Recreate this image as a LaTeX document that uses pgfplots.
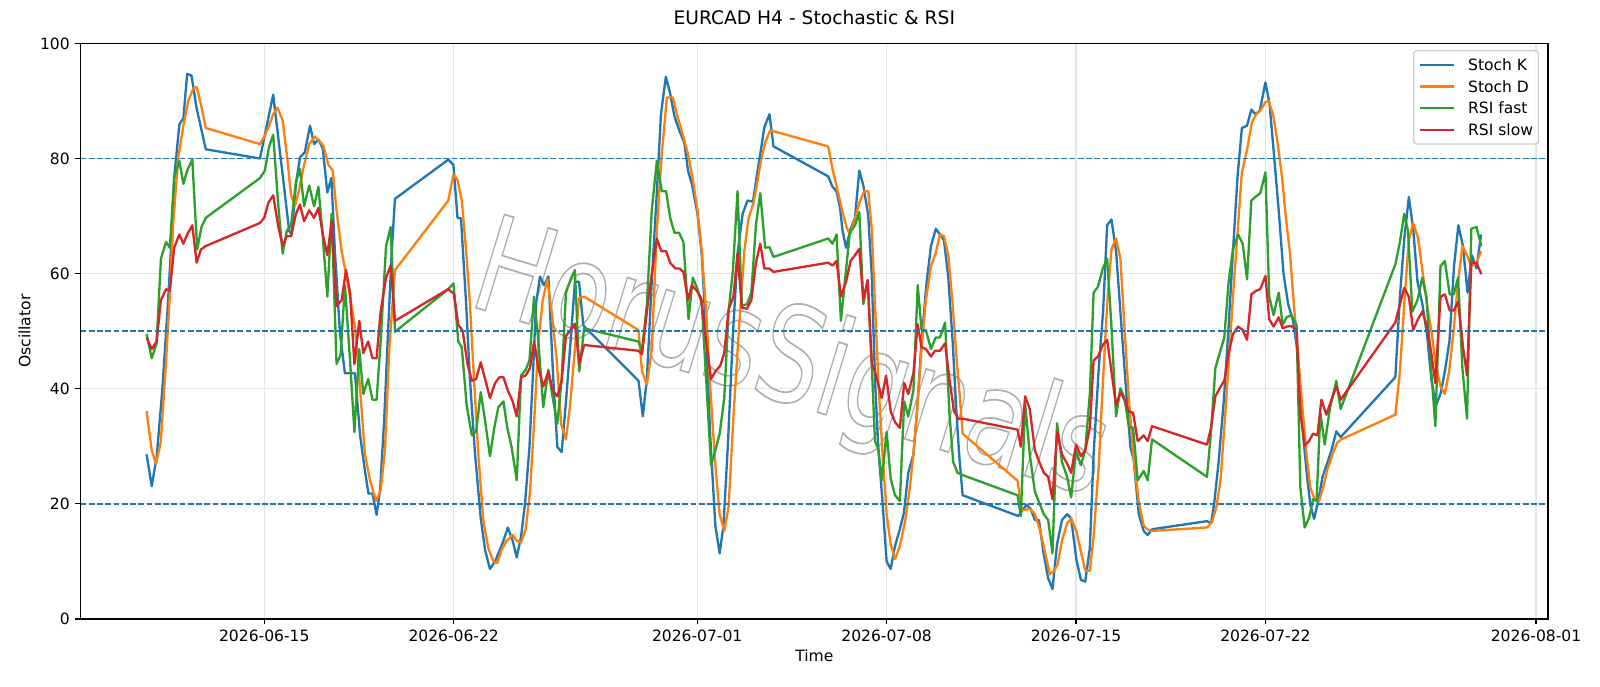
\documentclass[border=0pt]{standalone}
\usepackage{fontspec}
\setmainfont{DejaVu Sans}
\usepackage{graphicx}
\usepackage{pgfplots}
\pgfplotsset{compat=1.18}

\definecolor{tabblue}{HTML}{1F77B4}
\definecolor{taborange}{HTML}{FF7F0E}
\definecolor{tabgreen}{HTML}{2CA02C}
\definecolor{tabred}{HTML}{D62728}

% outlined text (PDF text rendering mode 1 = stroke only)
\newcommand{\outlinetext}[1]{\special{pdf:literal direct 1 Tr}#1\special{pdf:literal direct 0 Tr}}

% x values: days since 2026-06-01 00:00 (H4 bars, weekends skipped)

\begin{document}
\begin{tikzpicture}
\path[use as bounding box] (-51.9pt,-43.1pt) rectangle (977.1pt,398.1pt);
\begin{axis}[
  at={(0pt,0pt)}, anchor=south west,
  scale only axis,
  width=943.6pt, height=370.2pt,
  xmin=7.215, xmax=61.44,
  ymin=0, ymax=100,
  xtick={14,21,30,37,44,51,61},
  xticklabels={2026-06-15,2026-06-22,2026-07-01,2026-07-08,2026-07-15,2026-07-22,2026-08-01},
  ytick={0,20,40,60,80,100},
  tick pos=left,
  tick align=outside,
  major tick length=3.5pt,
  grid=major,
  major grid style={line width=0.8pt, color=black!10},
  axis line style={line width=0.8pt},
  every tick/.style={line width=0.8pt, black},
  tick label style={font=\fontsize{10}{12}\selectfont},
  /pgf/number format/assume math mode=true,
  xlabel={Time}, ylabel={Oscillator},
  label style={font=\fontsize{10}{12}\selectfont},
  xlabel style={at={(axis description cs:0.5,-0.0643)}, anchor=center},
  ylabel style={at={(axis description cs:-0.03826,0.5)}, anchor=center},
  title={EURCAD H4 - Stochastic \& RSI},
  title style={font=\fontsize{12}{14}\selectfont, at={(axis description cs:0.5,1.0173)}, anchor=base},
  legend style={
    at={(axis description cs:0.99407,0.9884)}, anchor=north east,
    draw=black!20, line width=0.8pt, rounded corners=2pt,
    fill=white, fill opacity=0.8, text opacity=1,
    font=\fontsize{10}{12}\selectfont,
    inner xsep=3.6pt, inner ysep=5.4pt,
    row sep=6.7pt,
    nodes={inner sep=0pt, text height=7.3pt, text depth=0pt},
    /tikz/every odd column/.append style={column sep=8.5pt},
  },
  legend cell align=left,
  legend image code/.code={\draw[#1, line width=1.5pt] (0pt,0pt) -- (21.4pt,0pt);},
  every axis plot/.append style={line width=1.5pt, line join=round},
]

% watermark
\node[rotate=-17, text=black!45, opacity=0.7, line width=1.1pt] at (axis cs:33.43,44.1)
  {\outlinetext{\scalebox{0.75}[1]{\fontsize{86}{86}\selectfont HorusSignals}}};

% Stoch K
\addplot[tabblue] table {
9.65 28.6
9.84 23.1
10.02 28.0
10.23 39.7
10.42 53.4
10.58 66.5
10.67 76.6
10.86 85.9
11.01 87.0
11.15 94.7
11.31 94.4
11.50 88.7
11.84 81.6
13.84 80.0
14.33 91.1
14.70 76.3
14.92 67.4
15.01 66.8
15.17 75.6
15.32 80.2
15.50 81.1
15.69 85.7
15.84 82.5
16.00 83.3
16.16 81.8
16.33 74.1
16.48 76.6
16.61 63.9
16.80 49.5
16.98 42.7
17.17 42.7
17.35 42.7
17.54 32.0
17.69 26.7
17.85 21.8
18.00 21.8
18.15 18.1
18.28 22.4
18.43 34.5
18.59 51.5
18.71 63.9
18.83 73.0
20.80 79.8
20.99 78.9
21.14 69.7
21.27 69.6
21.46 54.7
21.60 41.7
21.79 28.6
22.00 17.5
22.16 12.0
22.34 8.7
22.53 10.0
22.84 13.6
23.00 15.9
23.18 13.6
23.33 10.7
23.49 14.3
23.64 20.2
23.80 29.9
23.94 43.6
24.04 54.7
24.19 59.5
24.34 58.0
24.50 59.5
24.68 41.7
24.83 29.9
24.99 29.0
25.15 37.8
25.32 48.2
25.48 58.6
25.63 58.6
25.79 51.1
25.83 50.8
27.83 41.4
27.99 35.2
28.14 41.7
28.32 58.6
28.51 74.3
28.66 87.7
28.84 94.2
29.00 91.3
29.16 87.3
29.35 84.7
29.52 82.8
29.66 77.9
29.80 75.6
30.01 70.4
30.17 63.2
30.33 49.5
30.48 31.9
30.67 16.2
30.83 11.4
30.97 16.2
31.13 29.9
31.32 49.5
31.50 63.9
31.68 70.4
31.86 72.7
32.06 72.5
32.20 76.9
32.33 80.8
32.48 85.4
32.67 87.7
32.82 82.1
34.84 76.9
35.00 75.1
35.15 74.3
35.28 71.4
35.37 67.5
35.50 64.5
35.67 67.8
35.83 69.7
35.99 77.9
36.14 75.3
36.32 70.1
36.45 59.9
36.57 41.7
36.69 29.9
36.85 20.2
37.00 10.0
37.15 8.7
37.31 12.7
37.49 15.6
37.64 18.5
37.80 25.4
37.99 28.6
38.11 35.2
38.29 48.2
38.48 58.6
38.64 64.8
38.82 67.8
38.97 66.8
39.12 65.8
39.28 59.3
39.44 48.2
39.59 35.2
39.69 28.0
39.81 21.5
41.86 17.9
42.17 19.8
42.32 19.2
42.48 17.2
42.63 17.2
42.79 11.7
42.97 7.1
43.13 5.2
43.30 13.0
43.48 17.2
43.67 18.2
43.82 17.5
44.01 10.4
44.18 6.8
44.34 6.5
44.51 12.3
44.65 28.6
44.84 43.6
45.00 53.4
45.15 68.4
45.31 69.4
45.48 63.9
45.64 53.4
45.82 41.7
46.01 29.9
46.13 27.7
46.32 18.2
46.50 15.3
46.65 14.6
46.82 15.6
48.84 17.0
48.99 16.6
49.11 20.2
49.27 27.3
49.46 37.8
49.64 50.8
49.80 63.9
49.97 76.9
50.13 85.3
50.32 85.7
50.48 88.5
50.63 87.7
50.79 88.3
51.00 93.2
51.15 89.6
51.30 81.5
51.49 71.0
51.67 59.9
51.84 54.7
52.02 51.8
52.17 46.9
52.29 38.4
52.42 30.6
52.54 24.7
52.66 19.8
52.80 17.4
52.95 20.5
53.11 24.7
53.28 27.0
53.44 29.3
53.62 32.6
53.78 31.6
55.80 42.0
55.97 56.0
56.13 66.0
56.30 73.3
56.46 67.8
56.62 58.6
56.80 54.7
56.97 49.5
57.13 41.7
57.30 37.1
57.47 39.1
57.63 43.0
57.80 48.2
57.97 61.3
58.13 68.4
58.30 64.8
58.47 56.7
58.63 63.2
58.80 60.9
58.97 66.8
};
\addlegendentry{Stoch K}

% Stoch D
\addplot[taborange] table {
9.65 36.1
9.84 29.3
10.00 27.0
10.17 30.6
10.33 41.7
10.49 54.7
10.64 69.1
10.82 80.2
11.01 85.7
11.19 90.0
11.38 92.2
11.50 92.4
11.65 89.6
11.84 85.3
13.84 82.5
14.00 83.8
14.18 85.7
14.33 87.7
14.49 88.8
14.68 86.6
14.83 80.8
14.99 73.6
15.13 71.7
15.29 74.6
15.44 78.2
15.66 82.5
15.87 83.8
16.02 83.1
16.18 82.3
16.37 78.9
16.53 77.9
16.67 71.0
16.86 63.9
17.02 59.9
17.17 56.0
17.35 50.8
17.54 40.0
17.72 28.6
17.91 24.1
18.13 20.5
18.30 22.4
18.46 29.3
18.62 46.9
18.83 60.6
20.80 72.7
20.99 77.2
21.14 76.3
21.30 72.7
21.46 63.9
21.60 54.7
21.75 41.7
21.91 28.6
22.10 16.9
22.28 12.3
22.47 10.0
22.61 9.7
22.77 12.0
22.96 13.6
23.18 14.6
23.33 13.6
23.49 13.3
23.66 15.6
23.82 22.1
23.97 33.9
24.13 48.2
24.29 55.4
24.46 59.0
24.62 53.4
24.81 44.9
24.97 33.9
25.15 31.2
25.30 37.1
25.48 46.9
25.63 55.7
25.82 56.0
27.83 50.2
27.96 43.0
28.14 40.7
28.32 46.9
28.51 67.8
28.69 80.8
28.88 90.6
29.10 90.6
29.27 87.3
29.47 84.1
29.66 80.8
29.84 76.3
30.01 71.0
30.17 63.9
30.33 53.4
30.48 40.4
30.67 26.7
30.83 18.2
31.00 15.3
31.16 19.5
31.34 35.2
31.53 49.5
31.74 63.9
31.90 69.7
32.08 72.3
32.20 75.3
32.35 79.5
32.51 82.8
32.70 84.9
34.84 82.1
35.00 78.2
35.18 74.6
35.37 70.7
35.52 68.1
35.64 66.8
35.80 69.1
35.99 72.3
36.17 74.3
36.32 74.3
36.45 67.8
36.57 54.7
36.69 41.7
36.85 28.6
37.00 18.2
37.15 13.0
37.31 10.4
37.49 12.7
37.68 16.9
37.84 22.1
37.99 28.6
38.13 36.5
38.29 46.9
38.45 55.4
38.64 61.3
38.81 63.5
38.97 66.8
39.12 66.5
39.28 63.2
39.44 54.7
39.59 44.9
39.72 37.8
39.81 32.2
41.84 24.0
42.00 18.9
42.15 19.0
42.30 19.2
42.48 18.2
42.66 15.6
42.85 11.7
43.03 7.8
43.18 8.3
43.32 9.5
43.48 13.6
43.67 16.6
43.82 17.5
44.01 15.3
44.18 11.7
44.34 8.4
44.51 8.4
44.65 14.3
44.84 26.7
45.00 41.7
45.15 54.7
45.31 64.2
45.48 66.1
45.64 62.6
45.79 50.8
45.95 38.4
46.13 28.0
46.32 20.2
46.50 16.2
46.66 15.5
46.82 15.3
48.84 15.9
49.03 16.9
49.19 19.5
49.34 24.1
49.48 33.2
49.64 44.3
49.80 56.0
49.97 67.1
50.13 77.6
50.32 81.5
50.50 86.3
50.66 87.7
50.81 88.3
51.00 89.8
51.12 90.0
51.28 87.7
51.43 83.4
51.61 76.9
51.75 70.0
51.90 63.9
52.05 54.7
52.21 45.6
52.37 36.5
52.52 28.6
52.66 22.8
52.82 20.8
52.98 20.5
53.13 22.8
53.29 26.0
53.48 28.6
53.65 30.6
53.80 31.2
55.80 35.5
55.97 43.0
56.13 54.7
56.30 65.8
56.46 68.8
56.64 66.2
56.80 60.6
56.97 54.7
57.13 50.2
57.29 44.3
57.47 40.4
57.63 39.1
57.79 43.0
57.94 49.5
58.12 58.6
58.28 64.8
58.45 63.2
58.61 61.3
58.80 61.9
58.97 63.9
};
\addlegendentry{Stoch D}

% RSI fast
\addplot[tabgreen] table {
9.65 49.5
9.84 45.3
10.02 47.9
10.18 62.6
10.37 65.5
10.51 64.5
10.67 76.6
10.86 79.6
11.01 75.6
11.15 77.9
11.34 79.8
11.52 64.2
11.68 68.1
11.84 69.7
13.84 76.6
14.02 77.9
14.18 82.1
14.33 84.1
14.52 71.7
14.68 63.5
14.83 67.4
14.99 68.4
15.17 75.9
15.32 78.2
15.47 71.7
15.66 75.3
15.84 71.7
16.00 75.1
16.16 66.5
16.33 56.0
16.49 70.4
16.67 44.3
16.82 45.9
16.98 58.0
17.17 44.9
17.33 32.5
17.51 46.9
17.66 39.1
17.84 41.7
18.00 38.1
18.15 38.1
18.30 48.2
18.50 64.8
18.67 68.1
18.83 49.9
20.80 57.3
20.99 58.3
21.17 48.2
21.30 47.2
21.48 37.1
21.67 31.9
21.83 32.6
22.00 39.4
22.16 34.5
22.34 28.3
22.50 33.2
22.65 36.8
22.84 37.8
22.98 33.2
23.14 29.9
23.33 24.1
23.49 42.3
23.66 43.3
23.80 44.9
23.97 56.0
24.13 48.2
24.31 36.8
24.50 43.3
24.66 38.4
24.83 33.9
24.99 41.7
25.15 56.7
25.32 59.0
25.48 60.6
25.64 43.0
25.82 50.5
27.83 48.2
27.96 46.6
28.14 54.7
28.32 71.0
28.51 79.6
28.69 74.3
28.85 74.3
29.00 69.7
29.16 67.1
29.33 67.1
29.49 65.5
29.68 52.1
29.84 59.3
30.01 57.3
30.17 54.7
30.33 41.7
30.51 26.7
30.67 29.3
30.83 32.2
31.00 38.4
31.16 53.4
31.32 60.6
31.49 74.3
31.65 54.4
31.84 54.7
32.00 56.7
32.17 68.4
32.33 74.0
32.51 64.5
32.67 64.6
32.82 62.9
34.84 66.1
35.00 65.2
35.15 66.8
35.31 51.8
35.50 60.6
35.64 67.1
35.83 68.4
35.99 70.7
36.14 54.7
36.30 58.9
36.45 44.3
36.57 30.9
36.69 29.6
36.82 24.1
37.00 32.5
37.15 24.4
37.31 21.5
37.49 20.5
37.65 37.8
37.80 35.2
37.99 39.7
38.15 58.0
38.29 50.2
38.45 50.2
38.64 46.9
38.81 48.9
38.97 48.9
39.16 51.5
39.32 35.8
39.46 27.3
39.62 25.4
39.81 25.0
41.84 21.5
41.96 17.9
42.12 37.4
42.29 28.6
42.48 22.1
42.64 20.2
42.81 18.2
42.97 17.2
43.13 11.4
43.30 34.0
43.48 27.3
43.67 24.7
43.82 21.1
44.00 29.3
44.18 26.7
44.34 29.3
44.51 39.1
44.65 56.7
44.81 57.7
44.99 60.9
45.15 62.6
45.31 50.8
45.48 35.2
45.64 40.1
45.79 38.4
45.95 33.5
46.11 33.2
46.28 24.1
46.50 25.7
46.65 24.1
46.81 31.2
48.84 24.7
48.99 32.6
49.15 43.6
49.31 46.2
49.48 48.9
49.64 58.6
49.80 64.2
49.99 66.8
50.16 65.2
50.32 59.0
50.48 72.7
50.65 73.4
50.81 74.0
51.00 77.6
51.14 56.0
51.30 52.8
51.49 56.7
51.64 51.1
51.78 52.4
51.96 52.8
52.15 51.1
52.29 22.8
52.45 15.9
52.61 17.5
52.76 20.8
52.89 20.5
53.03 35.8
53.19 30.3
53.38 36.5
53.62 41.4
53.78 36.5
55.80 61.6
55.97 65.5
56.13 70.4
56.27 67.4
56.43 53.4
56.62 55.4
56.80 59.3
56.95 56.0
57.13 43.0
57.28 33.5
57.47 61.3
57.63 62.2
57.81 56.4
57.96 56.4
58.12 59.3
58.28 43.6
58.45 34.8
58.61 67.8
58.80 68.1
58.98 64.8
};
\addlegendentry{RSI fast}

% RSI slow
\addplot[tabred] table {
9.65 48.9
9.84 46.9
10.02 48.2
10.18 55.4
10.37 57.3
10.51 57.0
10.67 64.5
10.86 66.8
11.01 65.2
11.15 66.8
11.34 68.4
11.50 61.9
11.66 64.2
11.84 64.8
13.84 68.8
14.00 69.7
14.15 72.3
14.33 73.6
14.52 68.1
14.68 64.8
14.83 66.5
14.99 66.5
15.17 70.4
15.32 72.0
15.47 69.1
15.66 71.0
15.84 69.7
16.00 71.4
16.18 66.5
16.33 63.2
16.49 69.1
16.67 54.4
16.86 55.4
17.02 60.6
17.17 56.7
17.33 44.3
17.51 51.8
17.66 46.2
17.84 48.2
18.00 45.3
18.15 45.3
18.30 53.4
18.50 59.3
18.67 61.4
18.83 51.8
20.80 57.3
21.01 56.5
21.17 51.1
21.33 50.1
21.51 44.3
21.67 41.4
21.83 41.7
22.00 44.6
22.16 41.7
22.34 38.4
22.53 41.0
22.69 42.0
22.84 42.0
23.00 39.7
23.18 37.8
23.33 35.2
23.49 42.0
23.66 42.3
23.82 43.6
23.97 48.2
24.13 43.6
24.31 40.4
24.50 43.0
24.66 39.7
24.83 38.7
24.99 41.4
25.15 49.2
25.32 50.2
25.48 51.3
25.64 44.3
25.82 47.6
27.83 46.6
27.96 46.0
28.14 53.4
28.32 59.9
28.51 66.1
28.67 63.9
28.85 63.9
29.00 61.9
29.19 60.9
29.35 60.9
29.49 60.3
29.66 55.4
29.80 58.0
29.99 57.0
30.15 55.7
30.33 48.2
30.51 41.7
30.67 43.0
30.85 44.0
31.00 46.2
31.16 53.8
31.34 56.0
31.49 63.5
31.65 54.1
31.84 53.9
32.00 55.4
32.17 61.9
32.33 65.2
32.48 60.9
32.66 60.9
32.82 60.3
34.84 61.9
35.00 61.4
35.15 62.2
35.31 56.0
35.50 58.6
35.67 62.2
35.83 63.2
35.99 64.3
36.14 55.4
36.30 58.9
36.45 44.3
36.57 43.0
36.82 38.4
36.98 42.3
37.15 36.1
37.31 34.2
37.49 33.2
37.65 41.0
37.80 39.1
37.99 42.7
38.15 51.2
38.29 47.2
38.45 46.9
38.64 45.6
38.79 46.6
38.97 46.6
39.16 47.9
39.32 41.7
39.49 36.1
39.65 34.8
39.81 34.8
41.84 32.9
41.96 29.9
42.12 38.7
42.29 36.5
42.48 29.3
42.64 27.3
42.81 25.4
42.97 24.7
43.13 20.8
43.30 32.6
43.48 28.6
43.67 27.0
43.82 25.4
44.00 30.3
44.18 28.3
44.34 29.3
44.51 33.2
44.65 44.9
44.81 45.6
44.99 47.6
45.15 48.5
45.31 43.0
45.48 37.1
45.64 39.4
45.79 38.1
45.95 36.1
46.11 35.8
46.28 30.9
46.50 31.9
46.65 30.9
46.81 33.5
48.84 30.3
48.99 33.2
49.15 38.7
49.31 40.1
49.48 41.4
49.64 46.2
49.80 49.5
49.99 50.8
50.16 50.2
50.32 48.5
50.48 56.4
50.65 57.0
50.81 57.3
51.00 59.6
51.14 52.1
51.30 50.8
51.49 52.4
51.64 50.5
51.78 50.8
51.96 50.9
52.15 50.2
52.29 35.8
52.45 30.1
52.61 30.9
52.76 32.2
52.92 31.9
53.07 38.1
53.25 35.5
53.44 38.1
53.62 40.4
53.78 38.1
55.80 51.5
55.97 54.7
56.13 57.5
56.30 56.0
56.46 50.2
56.64 52.1
56.80 53.4
56.97 50.8
57.13 46.2
57.28 41.0
57.47 56.0
57.63 56.4
57.81 53.6
57.96 53.6
58.12 55.1
58.31 47.0
58.45 42.3
58.61 61.9
58.80 61.9
58.98 59.9
};
\addlegendentry{RSI slow}

% reference levels
\addplot[forget plot, tabblue, line width=1pt, dash pattern=on 3.7pt off 1.6pt] coordinates {(7.215,80) (61.44,80)};
\addplot[forget plot, tabblue, line width=1pt, dash pattern=on 3.7pt off 1.6pt] coordinates {(7.215,50) (61.44,50)};
\addplot[forget plot, tabblue, line width=1pt, dash pattern=on 3.7pt off 1.6pt] coordinates {(7.215,20) (61.44,20)};

\end{axis}
\end{tikzpicture}
\end{document}
